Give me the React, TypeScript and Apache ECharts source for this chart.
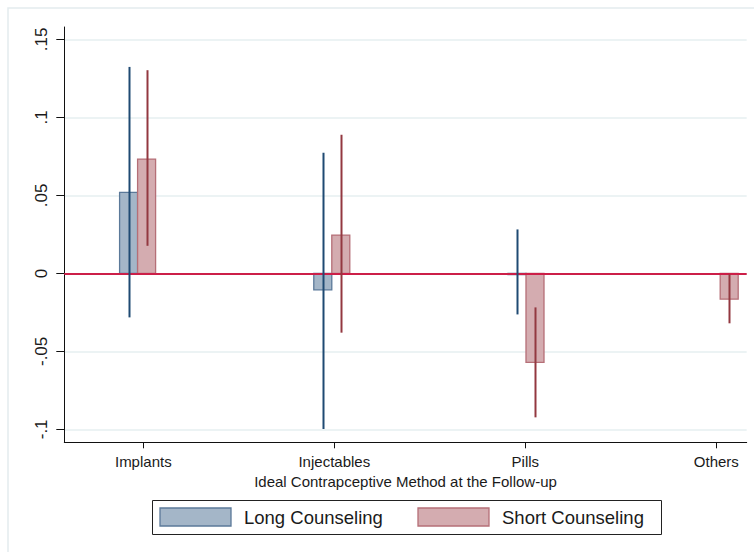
import React, { useEffect, useRef } from "react";
import * as echarts from "echarts";

// Point estimates and 95% confidence bounds by ideal method at follow-up
const categories = ["Implants", "Injectables", "Pills", "Others"];
const seriesNames = ["Long Counseling", "Short Counseling"];

const longEstimate: (number | null)[] = [0.052, -0.0105, -0.0008, null];
const longLower: (number | null)[] = [-0.0282, -0.0998, -0.0263, null];
const longUpper: (number | null)[] = [0.1324, 0.0773, 0.0282, null];

const shortEstimate: (number | null)[] = [0.0733, 0.0246, -0.057, -0.0165];
const shortLower: (number | null)[] = [0.0177, -0.038, -0.0923, -0.032];
const shortUpper: (number | null)[] = [0.1303, 0.0889, -0.0218, -0.0005];

const yTicks = [-0.1, -0.05, 0, 0.05, 0.1, 0.15];
const xTicks = [1, 2, 3, 4];

const FONT = "'Liberation Sans', Arial, Helvetica, sans-serif";
const TEXT = "#1a1a1a";
const BAR_W = 18;

const LONG = { fill: "#a4b6c8", stroke: "#5b7999", whisker: "#1f4a73" };
const SHORT = { fill: "#d4acb0", stroke: "#b56f77", whisker: "#933840" };

const fmtTick = (v: number) => (v === 0 ? "0" : String(v).replace("0.", "."));

function barData(est: (number | null)[]) {
  return est
    .map((v, i) => (v === null ? null : [i + 1, v]))
    .filter((d) => d !== null) as number[][];
}

function whiskerData(lo: (number | null)[], hi: (number | null)[]) {
  return lo
    .map((v, i) => (v === null || hi[i] === null ? null : [i + 1, v, hi[i] as number]))
    .filter((d) => d !== null) as number[][];
}

// side = -1 puts the bar left of the slot centre, +1 to the right
function barRenderer(side: number, colors: { fill: string; stroke: string }) {
  return (_params: any, api: any) => {
    const slot = api.value(0);
    const v = api.value(1);
    const base = api.coord([slot, 0]);
    const tip = api.coord([slot, v]);
    const x = side < 0 ? base[0] - BAR_W : base[0];
    const h = Math.max(Math.abs(tip[1] - base[1]), 0.8);
    return {
      type: "rect",
      shape: { x, y: Math.min(base[1], tip[1]), width: BAR_W, height: h },
      style: { fill: colors.fill, stroke: colors.stroke, lineWidth: 1.3 },
    };
  };
}

function whiskerRenderer(side: number, color: string) {
  return (_params: any, api: any) => {
    const slot = api.value(0);
    const lo = api.coord([slot, api.value(1)]);
    const hi = api.coord([slot, api.value(2)]);
    const x = Math.round(lo[0] + (side * BAR_W) / 2) + 0.5;
    return {
      type: "line",
      shape: { x1: x, y1: lo[1], x2: x, y2: hi[1] },
      style: { stroke: color, lineWidth: 2 },
    };
  };
}

function legendItem(x: number, label: string, colors: { fill: string; stroke: string }) {
  return [
    {
      type: "rect",
      shape: { x, y: 508, width: 71, height: 18 },
      style: { fill: colors.fill, stroke: colors.stroke, lineWidth: 1.3 },
    },
    {
      type: "text",
      x: x + 84,
      y: 517,
      style: {
        text: label,
        font: `18.5px ${FONT}`,
        fill: TEXT,
        textVerticalAlign: "middle",
        verticalAlign: "middle",
      },
    },
  ];
}

export default function App() {
  const ref = useRef<HTMLDivElement>(null);

  useEffect(() => {
    document.body.style.margin = "0";
    if (!ref.current) return;
    const chart = echarts.init(ref.current, undefined, { renderer: "svg" });

    chart.setOption({
      animation: false,
      backgroundColor: "#ffffff",
      grid: { left: 64.3, right: 7.3, top: 27, bottom: 109.7, containLabel: false },
      xAxis: [
        {
          type: "value",
          min: 0.5864,
          max: 4.159,
          name: "Ideal Contrapceptive Method at the Follow-up",
          nameLocation: "middle",
          nameGap: 30,
          nameTextStyle: { fontFamily: FONT, fontSize: 15, color: TEXT },
          axisLine: { onZero: false, lineStyle: { color: "#111", width: 1 } },
          axisTick: { length: 6, customValues: xTicks, lineStyle: { color: "#111" } },
          axisLabel: {
            customValues: xTicks,
            margin: 12,
            fontFamily: FONT,
            fontSize: 15,
            color: TEXT,
            formatter: (v: number) => categories[Math.round(v) - 1] ?? "",
          },
          splitLine: { show: false },
        },
        {
          // slot axis on which the bar pairs are laid out
          type: "value",
          min: 0.6226,
          max: 4.1365,
          show: false,
          splitLine: { show: false },
        },
      ],
      yAxis: {
        type: "value",
        min: -0.1083,
        max: 0.158,
        axisLine: { show: true, onZero: false, lineStyle: { color: "#111", width: 1 } },
        axisTick: { show: true, length: 8, customValues: yTicks, lineStyle: { color: "#111" } },
        axisLabel: {
          customValues: yTicks,
          rotate: 90,
          margin: 14,
          fontFamily: FONT,
          fontSize: 17,
          color: TEXT,
          formatter: fmtTick,
        },
        splitLine: { show: true, lineStyle: { color: "#e6eff1", width: 1.6 } },
      },
      series: [
        {
          name: seriesNames[0],
          type: "custom",
          xAxisIndex: 1,
          z: 2,
          renderItem: barRenderer(-1, LONG),
          data: barData(longEstimate),
          encode: { x: 0, y: 1 },
          markLine: {
            silent: true,
            symbol: "none",
            z: 3,
            label: { show: false },
            lineStyle: { color: "#cc1f48", width: 2, type: "solid" },
            data: [{ yAxis: 0 }],
          },
        },
        {
          name: seriesNames[1],
          type: "custom",
          xAxisIndex: 1,
          z: 2,
          renderItem: barRenderer(1, SHORT),
          data: barData(shortEstimate),
          encode: { x: 0, y: 1 },
        },
        {
          type: "custom",
          xAxisIndex: 1,
          z: 4,
          renderItem: whiskerRenderer(-1, LONG.whisker),
          data: whiskerData(longLower, longUpper),
          encode: { x: 0, y: [1, 2] },
        },
        {
          type: "custom",
          xAxisIndex: 1,
          z: 4,
          renderItem: whiskerRenderer(1, SHORT.whisker),
          data: whiskerData(shortLower, shortUpper),
          encode: { x: 0, y: [1, 2] },
        },
      ],
      graphic: [
        {
          type: "rect",
          z: -10,
          silent: true,
          shape: { x: 8, y: 8, width: 800, height: 600 },
          style: { fill: "none", stroke: "#e3ecee", lineWidth: 1.5 },
        },
        {
          type: "rect",
          shape: { x: 152.5, y: 500.5, width: 509, height: 34 },
          style: { fill: "#ffffff", stroke: "#222", lineWidth: 1 },
        },
        ...legendItem(160, seriesNames[0], LONG),
        ...legendItem(418, seriesNames[1], SHORT),
      ],
    });

    return () => chart.dispose();
  }, []);

  return <div ref={ref} style={{ width: 754, height: 552 }} />;
}
